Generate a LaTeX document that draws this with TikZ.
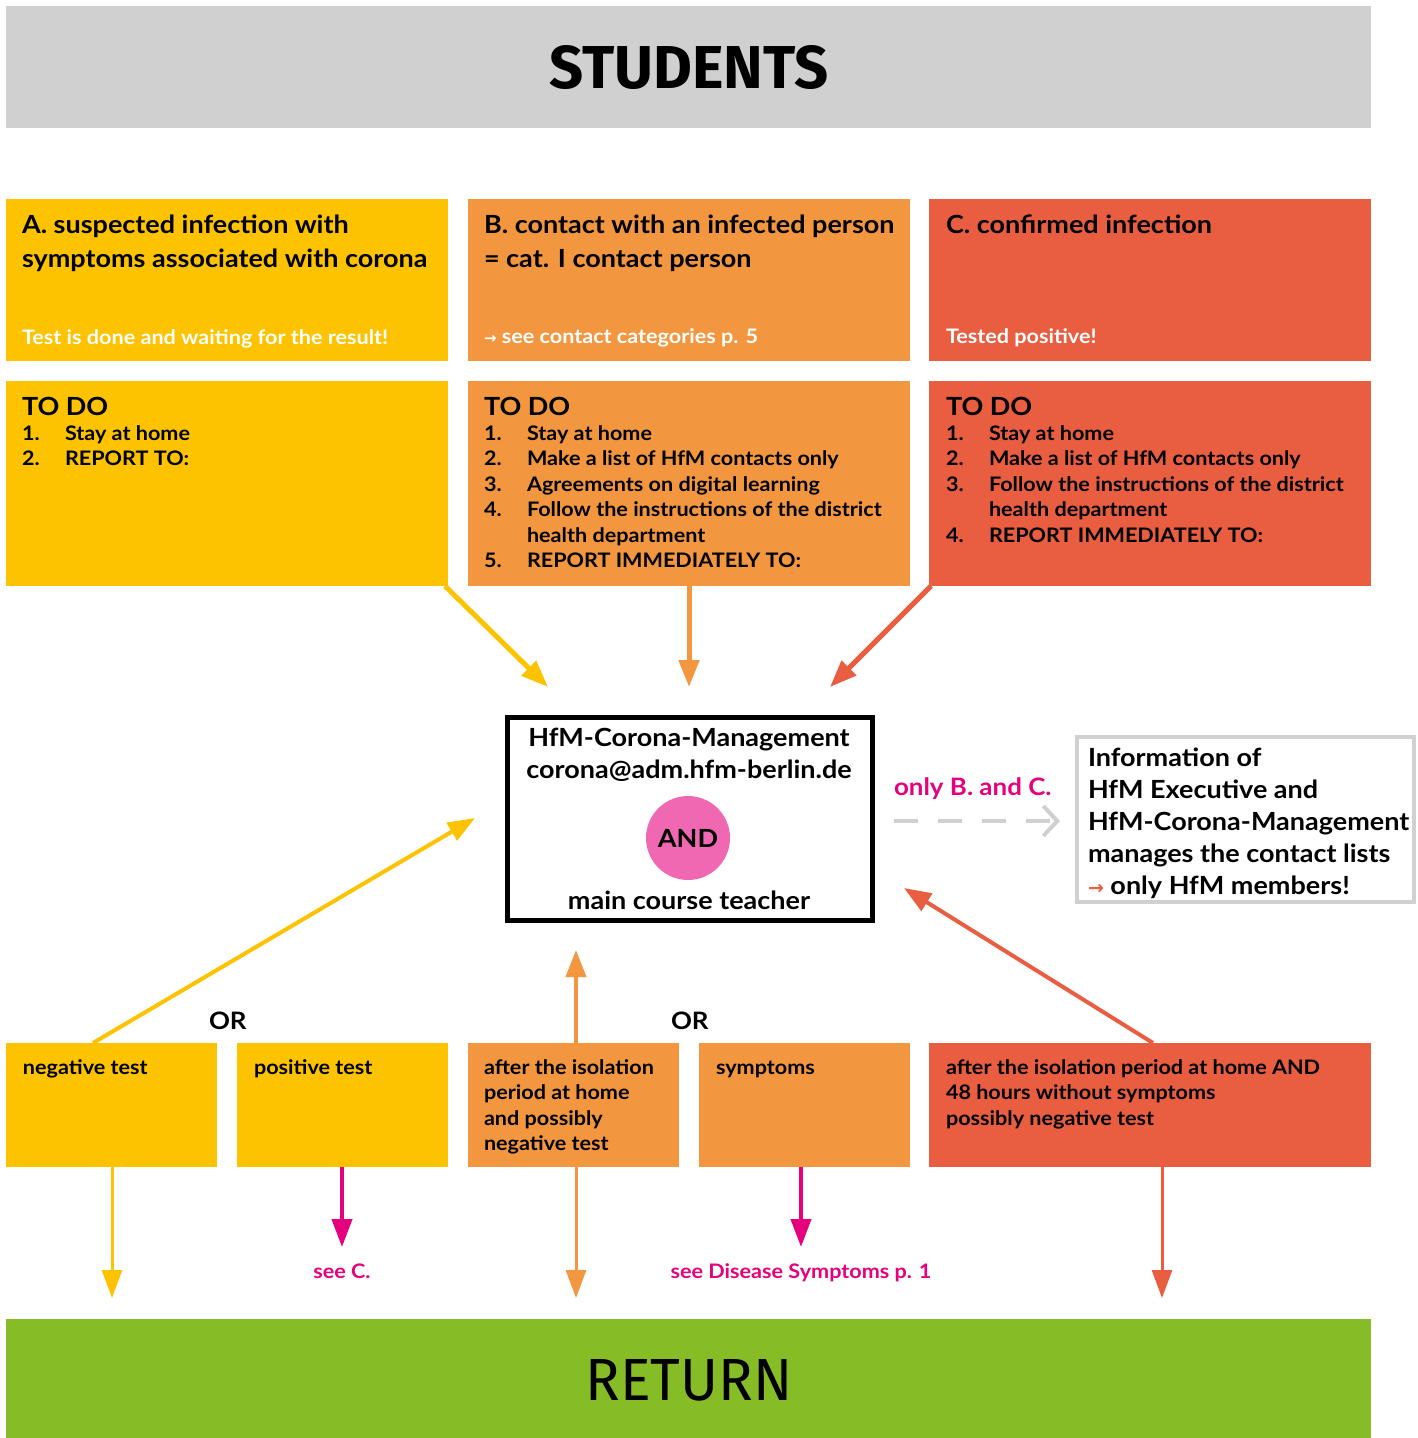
\documentclass[tikz,border=0pt]{standalone}
\usepackage{fontspec}
\usepackage{graphicx}
\setmainfont{Lato}[FakeStretch=1.08]
\newfontfamily\symf{DejaVu Sans}
\newfontfamily\headf{Fira Sans}
\usetikzlibrary{arrows.meta}
\definecolor{cyel}{HTML}{FDC300}
\definecolor{cora}{HTML}{F39640}
\definecolor{cred}{HTML}{E95D40}
\definecolor{cgreen}{HTML}{86BC25}
\definecolor{cgray}{HTML}{D0D0D0}
\definecolor{cmag}{HTML}{E5007D}
\definecolor{cpink}{HTML}{F067B2}
\newcommand{\tb}[1]{\begin{tabular}[t]{@{}l@{}}#1\end{tabular}}
\newcommand{\tc}[1]{\begin{tabular}[t]{@{}c@{}}#1\end{tabular}}
\newcommand{\todolist}[1]{\begin{tabular}[t]{@{}p{43pt}@{}l@{}}#1\end{tabular}}
\newcommand{\arr}[1]{{\symf\bfseries\fontsize{#1}{#1}\selectfont →}}
\begin{document}
\begin{tikzpicture}[x=1pt,y=-1pt,
  box/.style={draw=none,inner sep=0pt,outer sep=0pt,anchor=north west},
  txt/.style={inner sep=0pt,outer sep=0pt,anchor=base west},
  big/.style={font=\fontsize{25}{34}\selectfont\bfseries},
  mid/.style={font=\fontsize{20}{25.5}\selectfont\bfseries},
  hubf/.style={font=\fontsize{25}{32}\selectfont\bfseries},
  toparr/.style={line width=5pt,-{Triangle[length=27pt,width=20pt]}},
  diagarr/.style={line width=4pt,-{Triangle[length=27pt,width=20pt]}},
  thinarr/.style={line width=3pt,-{Triangle[length=28pt,width=20pt]}},
  magarr/.style={line width=4pt,cmag,-{Triangle[length=28pt,width=20pt]}}]
\useasboundingbox (0,0) rectangle (1418,1438);
% header
\node[box,fill=cgray,minimum width=1365pt,minimum height=122pt] (stud) at (6,6) {};
\node[inner sep=0pt,anchor=base] (studt) at (689,88) {\resizebox{279pt}{43pt}{\headf\bfseries STUDENTS}};
% row 1
\node[box,fill=cyel,minimum width=442pt,minimum height=162pt] (A1) at (6,199) {};
\node[box,fill=cora,minimum width=442pt,minimum height=162pt] (B1) at (468,199) {};
\node[box,fill=cred,minimum width=442pt,minimum height=162pt] (C1) at (929,199) {};
\node[txt,big] (A1t) at (22,233) {\tb{A. suspected infection with\\symptoms associated with corona}};
\node[txt,mid,white] (A1s) at (22,344) {Test is done and waiting for the result!};
\node[txt,big] (B1t) at (484,233) {\tb{B. contact with an infected person\\= cat. I contact person}};
\node[txt,mid,white] (B1s) at (484,343) {\arr{15}\ see contact categories p. 5};
\node[txt,big] (C1t) at (946,233) {C. confirmed infection};
\node[txt,mid,white] (C1s) at (946,343) {Tested positive!};
% row 2
\node[box,fill=cyel,minimum width=442pt,minimum height=205pt] (A2) at (6,381) {};
\node[box,fill=cora,minimum width=442pt,minimum height=205pt] (B2) at (468,381) {};
\node[box,fill=cred,minimum width=442pt,minimum height=205pt] (C2) at (929,381) {};
\node[txt,big] (A2h) at (22,415) {TO DO};
\node[txt,mid] (A2l) at (22,440) {\todolist{1.&Stay at home\\2.&REPORT TO:}};
\node[txt,big] (B2h) at (484,415) {TO DO};
\node[txt,mid] (B2l) at (484,440) {\todolist{1.&Stay at home\\2.&Make a list of HfM contacts only\\3.&Agreements on digital learning\\4.&Follow the instructions of the district\\&health department\\5.&REPORT IMMEDIATELY TO:}};
\node[txt,big] (C2h) at (946,415) {TO DO};
\node[txt,mid] (C2l) at (946,440) {\todolist{1.&Stay at home\\2.&Make a list of HfM contacts only\\3.&Follow the instructions of the district\\&health department\\4.&REPORT IMMEDIATELY TO:}};
% hub
\node[draw=black,line width=5pt,inner sep=0pt,outer sep=0pt,anchor=north west,minimum width=365pt,minimum height=203pt] (hub) at (507.5,717.5) {};
\node[inner sep=0pt,anchor=base,hubf] (hubt) at (689,746) {\tc{HfM-Corona-Management\\corona@adm.hfm-berlin.de}};
\node[circle,fill=cpink,minimum size=84pt,inner sep=0pt] (and) at (688,838) {};
\node[inner sep=0pt,anchor=base,hubf] (andt) at (688,847) {AND};
\node[inner sep=0pt,anchor=base,hubf] (teach) at (689,909) {main course teacher};
% info
\node[draw=cgray,line width=4pt,inner sep=0pt,outer sep=0pt,anchor=north west,minimum width=337pt,minimum height=165pt] (info) at (1077,737) {};
\node[txt,hubf] (infot) at (1088,766) {\tb{Information of\\HfM Executive and\\HfM-Corona-Management\\manages the contact lists\\{\color{cred}\arr{19}} only HfM members!}};
\node[txt,font=\fontsize{24}{30}\selectfont\bfseries,cmag] (onlybc) at (894,795) {only B. and C.};
\coordinate (dsA) at (894,821);
\coordinate (dsB) at (1060,821);
\draw[cgray,line width=4pt,dash pattern=on 24pt off 20pt,-{Straight Barb[length=14pt,width=30pt]}] (dsA) -- (dsB);
% top arrows
\coordinate (tA) at (548,687);
\coordinate (tB) at (689,687);
\coordinate (tC) at (830,687);
\draw[toparr,cyel] ([shift={(-3,0)}]A2.south east) -- (tA);
\draw[toparr,cora] (B2.south) -- (tB);
\draw[toparr,cred] ([shift={(2,0)}]C2.south west) -- (tC);
% bottom boxes
\node[box,fill=cyel,minimum width=211pt,minimum height=124pt] (neg) at (6,1043) {};
\node[box,fill=cyel,minimum width=211pt,minimum height=124pt] (pos) at (237,1043) {};
\node[box,fill=cora,minimum width=211pt,minimum height=124pt] (iso) at (468,1043) {};
\node[box,fill=cora,minimum width=211pt,minimum height=124pt] (sym) at (699,1043) {};
\node[box,fill=cred,minimum width=442pt,minimum height=124pt] (cret) at (929,1043) {};
\node[txt,mid] (negt) at (23,1074) {negative test};
\node[txt,mid] (post) at (254,1074) {positive test};
\node[txt,mid] (isot) at (484,1074) {\tb{after the isolation\\period at home\\and possibly\\negative test}};
\node[txt,mid] (symt) at (716,1074) {symptoms};
\node[txt,mid] (crett) at (946,1074) {\tb{after the isolation period at home AND\\48 hours without symptoms\\possibly negative test}};
\node[txt,font=\fontsize{24}{30}\selectfont\bfseries] (or1) at (209,1029) {OR};
\node[txt,font=\fontsize{24}{30}\selectfont\bfseries] (or2) at (671,1029) {OR};
% upward arrows
\coordinate (uA0) at (93,1043);
\coordinate (uA) at (475,818);
\coordinate (uB0) at (576,1043);
\coordinate (uB) at (576,950);
\coordinate (uC0) at (1153,1043);
\coordinate (uC) at (904,888);
\draw[diagarr,cyel] (uA0) -- (uA);
\draw[diagarr,cora] (uB0) -- (uB);
\draw[diagarr,cred] (uC0) -- (uC);
% return
\node[box,fill=cgreen,minimum width=1365pt,minimum height=119pt] (ret) at (6,1319) {};
\node[inner sep=0pt,anchor=base] (rett) at (689,1400) {\resizebox{207pt}{41pt}{\headf RETURN}};
% downward arrows
\coordinate (dA0) at (112,1167);
\coordinate (dA) at (112,1298);
\coordinate (dB0) at (342,1167);
\coordinate (dB) at (342,1247);
\coordinate (dC0) at (576,1167);
\coordinate (dC) at (576,1298);
\coordinate (dD0) at (801,1167);
\coordinate (dD) at (801,1247);
\coordinate (dE0) at (1162,1167);
\coordinate (dE) at (1162,1298);
\draw[thinarr,cyel] (dA0) -- (dA);
\draw[magarr] (dB0) -- (dB);
\draw[thinarr,cora] (dC0) -- (dC);
\draw[magarr] (dD0) -- (dD);
\draw[thinarr,cred] (dE0) -- (dE);
\node[inner sep=0pt,anchor=base,mid,cmag] (seec) at (342,1278) {see C.};
\node[inner sep=0pt,anchor=base,mid,cmag] (seed) at (801,1278) {see Disease Symptoms p. 1};
\end{tikzpicture}
\end{document}
